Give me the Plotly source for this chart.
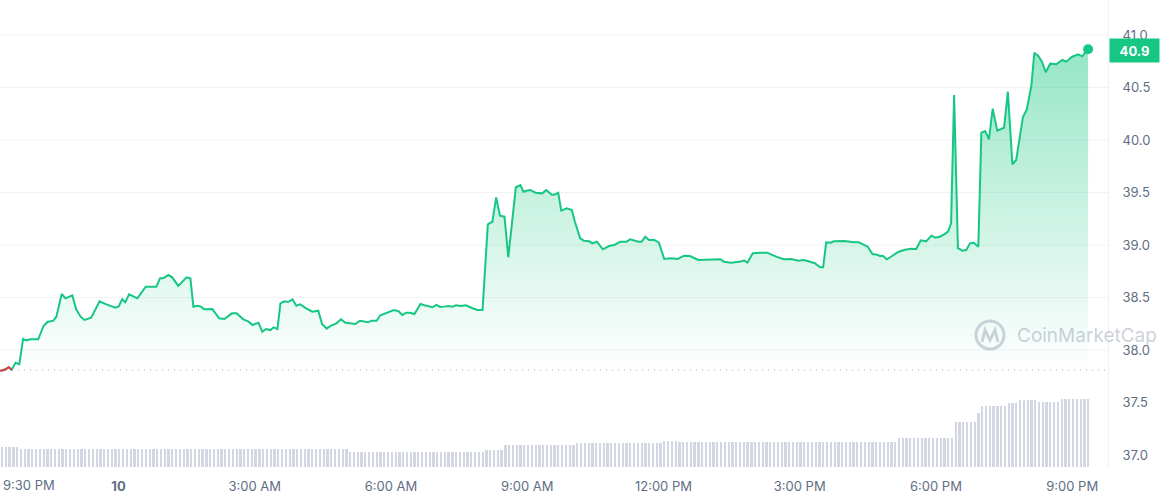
import plotly.graph_objects as go
import pandas as pd

# ---- data ----
window_start = "2023-03-09 21:24"
minutes = [
    0, 7, 11, 15, 20, 25, 30, 34, 40, 50,
    57, 62, 70, 74, 81, 86, 95, 100, 106, 111,
    120, 131, 140, 152, 156, 161, 165, 170, 181, 192,
    206, 211, 215, 222, 227, 235, 246, 251, 255, 260,
    265, 269, 280, 289, 296, 306, 312, 321, 328, 333,
    341, 346, 351, 357, 361, 366, 370, 375, 380, 386,
    391, 396, 404, 412, 420, 425, 431, 436, 444, 450,
    456, 461, 469, 475, 482, 486, 490, 497, 502, 510,
    515, 520, 526, 531, 536, 541, 547, 555, 560, 565,
    571, 576, 581, 586, 592, 597, 602, 608, 615, 623,
    630, 637, 644, 650, 655, 660, 666, 671, 676, 681,
    687, 691, 695, 700, 707, 716, 721, 729, 733, 737,
    741, 748, 755, 759, 766, 771, 778, 782, 788, 796,
    804, 811, 819, 827, 832, 843, 847, 852, 857, 864,
    870, 877, 885, 895, 903, 911, 922, 931, 951, 956,
    965, 976, 983, 987, 994, 1004, 1013, 1025, 1035, 1045,
    1054, 1062, 1070, 1076, 1083, 1087, 1091, 1097, 1101, 1115,
    1125, 1134, 1146, 1152, 1158, 1162, 1166, 1171, 1178, 1186,
    1195, 1203, 1210, 1216, 1223, 1230, 1235, 1241, 1247, 1252,
    1256, 1260, 1265, 1271, 1276, 1281, 1286, 1292, 1296, 1301,
    1306, 1311, 1317, 1326, 1331, 1337, 1342, 1351, 1356, 1362,
    1366, 1371, 1376, 1381, 1387, 1395, 1403, 1408, 1416, 1424,
    1429, 1437,
]
prices = [
    37.800, 37.816, 37.836, 37.812, 37.879, 37.864, 38.105, 38.092, 38.102, 38.102,
    38.229, 38.267, 38.279, 38.317, 38.533, 38.492, 38.521, 38.390, 38.317, 38.286,
    38.308, 38.464, 38.435, 38.403, 38.413, 38.483, 38.454, 38.530, 38.492, 38.603,
    38.603, 38.683, 38.683, 38.714, 38.692, 38.610, 38.692, 38.683, 38.413, 38.422,
    38.413, 38.388, 38.390, 38.302, 38.295, 38.349, 38.349, 38.292, 38.270, 38.238,
    38.260, 38.174, 38.200, 38.190, 38.216, 38.200, 38.445, 38.464, 38.457, 38.483,
    38.422, 38.435, 38.397, 38.365, 38.374, 38.248, 38.203, 38.229, 38.254, 38.292,
    38.260, 38.254, 38.248, 38.279, 38.273, 38.264, 38.279, 38.279, 38.331, 38.350,
    38.362, 38.381, 38.369, 38.333, 38.355, 38.355, 38.343, 38.438, 38.426, 38.419,
    38.407, 38.429, 38.410, 38.413, 38.419, 38.413, 38.426, 38.419, 38.426, 38.400,
    38.381, 38.381, 39.197, 39.222, 39.454, 39.279, 39.270, 38.883, 39.190, 39.550,
    39.571, 39.508, 39.517, 39.524, 39.498, 39.492, 39.524, 39.476, 39.483, 39.498,
    39.327, 39.350, 39.333, 39.222, 39.064, 39.041, 39.035, 39.016, 39.031, 38.959,
    38.990, 39.000, 39.031, 39.031, 39.054, 39.031, 39.031, 39.079, 39.048, 39.048,
    39.022, 38.867, 38.873, 38.867, 38.898, 38.895, 38.857, 38.857, 38.864, 38.841,
    38.832, 38.841, 38.851, 38.832, 38.921, 38.927, 38.927, 38.889, 38.864, 38.867,
    38.851, 38.857, 38.835, 38.826, 38.788, 38.788, 39.026, 39.022, 39.035, 39.038,
    39.029, 39.026, 38.984, 38.914, 38.908, 38.895, 38.898, 38.864, 38.895, 38.933,
    38.955, 38.965, 38.962, 39.045, 39.035, 39.089, 39.070, 39.079, 39.102, 39.127,
    39.207, 40.429, 38.969, 38.946, 38.952, 39.016, 39.022, 38.984, 40.070, 40.086,
    40.007, 40.298, 40.089, 40.117, 40.460, 39.769, 39.810, 40.222, 40.292, 40.514,
    40.831, 40.803, 40.746, 40.645, 40.727, 40.721, 40.762, 40.746, 40.793, 40.816,
    40.797, 40.864,
]
open_price = 37.81
last_label = "40.9"

# 5-minute volume bars (run-length: level, number of bars)
vol_levels = [10, 9, 7.3, 8.5, 11, 11.8, 13.2, 12.4, 12.7, 14.3, 22.7, 27, 30.5, 32, 33.5, 32.7, 34]
vol_counts = [5, 87, 36, 5, 19, 23, 4, 43, 15, 15, 6, 1, 7, 3, 5, 6, 8]

y_ticks = [37.0, 37.5, 38.0, 38.5, 39.0, 39.5, 40.0, 40.5, 41.0]
x_tick_times = ["2023-03-10 00:00", "2023-03-10 03:00", "2023-03-10 06:00", "2023-03-10 09:00",
                "2023-03-10 12:00", "2023-03-10 15:00", "2023-03-10 18:00", "2023-03-10 21:00"]
x_tick_text = ["<b>10</b>", "3:00 AM", "6:00 AM", "9:00 AM", "12:00 PM", "3:00 PM", "6:00 PM", "9:00 PM"]
first_tick_text = "9:30 PM"

# ---- build ----
GREEN = "#16c784"
RED = "#ea3943"
GREY = "#616e85"

t0 = pd.Timestamp(window_start)
times = t0 + pd.to_timedelta(minutes, unit="m")

volumes = []
for lv, c in zip(vol_levels, vol_counts):
    volumes += [lv] * c
vol_times = t0 + pd.to_timedelta([5 * i + 2.5 for i in range(len(volumes))], unit="m")

fig = go.Figure()

fig.add_trace(go.Scatter(x=[times[0], times[-1]], y=[open_price, open_price], mode="lines",
                         line=dict(width=0, color="rgba(0,0,0,0)"), hoverinfo="skip", showlegend=False))
fig.add_trace(go.Scatter(
    x=times, y=prices, mode="lines", fill="tonexty",
    line=dict(color=GREEN, width=2),
    fillgradient=dict(type="vertical",
                      colorscale=[[0, "rgba(22,199,132,0.0)"], [0.4, "rgba(22,199,132,0.18)"],
                                  [1, "rgba(22,199,132,0.45)"]],
                      start=open_price, stop=prices[-1]),
    showlegend=False))
fig.add_trace(go.Scatter(x=times[:4], y=prices[:4], mode="lines",
                         line=dict(color=RED, width=2), showlegend=False))
fig.add_trace(go.Scatter(x=[times[-1]], y=[prices[-1]], mode="markers",
                         marker=dict(color=GREEN, size=10), showlegend=False))
fig.add_trace(go.Bar(x=vol_times, y=volumes, yaxis="y2", marker=dict(color="#d3d7e4", line=dict(width=0)),
                     width=2.3 * 60000, showlegend=False))

shapes = []
for v in y_ticks:
    if v >= 38.0:
        shapes.append(dict(type="line", xref="paper", x0=0, x1=1, yref="y", y0=v, y1=v,
                           line=dict(color="#f1f2f5", width=1), layer="below"))
shapes.append(dict(type="line", xref="paper", x0=0, x1=1, yref="y", y0=open_price, y1=open_price,
                   line=dict(color="#a6b0c3", width=1, dash="1px,5px"), layer="below"))

# watermark logo (paper coordinates)
PW, PH = 1108.0, 467.0
def px(x, y):
    return x / PW, 1 - y / PH
cx0, cy0 = px(976, 349)
cx1, cy1 = px(1004, 321)
shapes.append(dict(type="circle", xref="paper", yref="paper", x0=cx0, y0=cy0, x1=cx1, y1=cy1,
                   line=dict(color="rgba(150,158,178,0.45)", width=3)))
pts = [px(982, 342), px(985, 330), px(990, 340), px(995, 330), px(998, 342)]
path = "M " + " L ".join(f"{a:.4f},{b:.4f}" for a, b in pts)
shapes.append(dict(type="path", xref="paper", yref="paper", path=path,
                   line=dict(color="rgba(150,158,178,0.45)", width=3)))

annotations = [
    dict(xref="paper", yref="paper", x=1015 / PW, y=1 - 335 / PH, xanchor="left", yanchor="middle",
         text="CoinMarketCap", showarrow=False,
         font=dict(family="Inter", size=19, color="rgba(140,150,170,0.45)")),
    dict(xref="paper", yref="y", x=1, y=prices[-1], xanchor="left", yanchor="middle", xshift=1, yshift=-1,
         text=f"<b>{last_label}</b>", showarrow=False, bgcolor=GREEN, width=43, height=17, borderpad=3,
         font=dict(family="Inter", size=13, color="white")),
    dict(xref="paper", yref="paper", x=0, y=0, xanchor="left", yanchor="middle", xshift=1, yshift=-18,
         text=first_tick_text, showarrow=False, font=dict(family="Inter", size=13, color=GREY)),
]

fig.update_layout(
    width=1161, height=500,
    margin=dict(l=0, r=53, t=0, b=33),
    paper_bgcolor="white", plot_bgcolor="white",
    font=dict(family="Inter", size=13, color=GREY),
    bargap=0,
    xaxis=dict(type="date",
               range=[t0 - pd.Timedelta(minutes=0.5), t0 + pd.Timedelta(minutes=1463.3)],
               tickmode="array", tickvals=x_tick_times, ticktext=x_tick_text,
               showgrid=False, zeroline=False, showline=False, ticks="",
               ticklabelstandoff=10, tickfont=dict(family="Inter", size=13, color=GREY)),
    yaxis=dict(side="right", range=[41.3333 - 467 / 105, 41.3333],
               tickmode="array", tickvals=y_ticks, ticktext=[f"{v:.1f}" for v in y_ticks],
               showgrid=False, zeroline=False, showline=True, linecolor="#eff2f5", ticks="",
               ticklabelstandoff=11, tickfont=dict(family="Inter", size=13, color=GREY)),
    yaxis2=dict(overlaying="y", range=[0, 233.5], visible=False),
    shapes=shapes, annotations=annotations,
    hovermode=False,
)

fig.write_html("out.html", config={"displayModeBar": False},
               post_script="document.body.style.margin='0';document.body.style.overflow='hidden';")
